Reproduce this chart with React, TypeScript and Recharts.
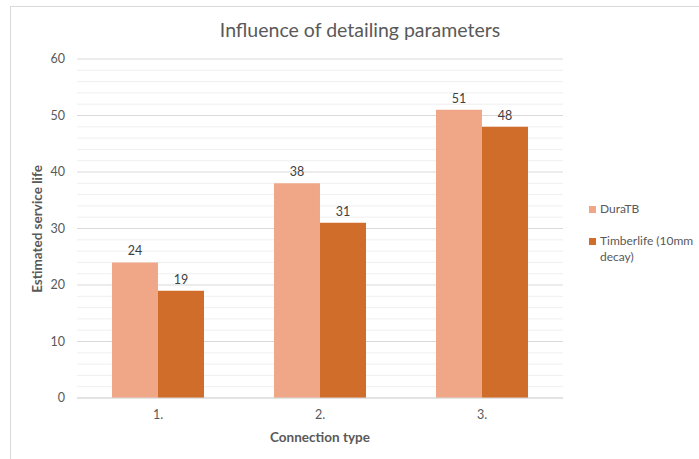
import { Bar, BarChart, CartesianGrid, LabelList, XAxis, YAxis } from "recharts";

const categories = ["1.", "2.", "3."];
const duraTB = [24, 38, 51];
const timberlife = [19, 31, 48];
const yTicks = Array.from({ length: 31 }, (_, i) => i * 2);

const seriesNames = ["DuraTB", "Timberlife (10mm decay)"];
const colors = ["#F0A788", "#D16D2A"];

const data = categories.map((c, i) => ({ name: c, dura: duraTB[i], timber: timberlife[i] }));

const FONT = "Lato, 'Open Sans', sans-serif";

function GridLine(props: any) {
  const major = props.index % 5 === 0;
  return (
    <line
      key={props.key}
      x1={props.x1}
      y1={props.y1}
      x2={props.x2}
      y2={props.y2}
      stroke={major ? "#d9d9d9" : "#efefef"}
      strokeWidth={1}
    />
  );
}

// legend drawn as an overlay so it doesn't eat into the plot area
function LegendBox() {
  return (
    <div
      style={{
        position: "absolute",
        left: 589,
        top: 201,
        fontSize: 12,
        color: "#595959",
        lineHeight: "16px",
      }}
    >
      {seriesNames.map((n, i) => (
        <div key={n} style={{ display: "flex", alignItems: "flex-start", marginBottom: i === 0 ? 16 : 0 }}>
          <span
            style={{ width: 7, height: 7, background: colors[i], marginTop: 5, marginRight: 4, flex: "none" }}
          />
          <span style={{ width: 98 }}>{n}</span>
        </div>
      ))}
    </div>
  );
}

export default function App() {
  return (
    <div
      style={{
        position: "absolute",
        left: 0,
        top: 0,
        width: 699,
        height: 459,
        overflow: "hidden",
        background: "#fff",
        fontFamily: FONT,
      }}
    >
      <div
        style={{
          position: "absolute",
          left: 10,
          top: 6,
          right: 0,
          bottom: 0,
          borderLeft: "1px solid #d9d9d9",
          borderTop: "1px solid #d9d9d9",
        }}
      />
      <div
        style={{
          position: "absolute",
          left: 10,
          width: 700,
          top: 18,
          textAlign: "center",
          fontSize: 19.5,
          color: "#595959",
        }}
      >
        Influence of detailing parameters
      </div>
      <div
        style={{
          position: "absolute",
          left: 37,
          top: 229,
          transform: "translate(-50%, -50%) rotate(-90deg)",
          whiteSpace: "nowrap",
          fontSize: 13.5,
          fontWeight: 700,
          color: "#595959",
        }}
      >
        Estimated service life
      </div>
      <div
        style={{
          position: "absolute",
          left: 320,
          top: 437,
          transform: "translate(-50%, -50%)",
          whiteSpace: "nowrap",
          fontSize: 13.5,
          fontWeight: 700,
          color: "#595959",
        }}
      >
        Connection type
      </div>
      <BarChart
        width={699}
        height={459}
        data={data}
        margin={{ top: 59, right: 136, left: 37, bottom: 31 }}
        barCategoryGap="21.6%"
        barGap={0}
        style={{ position: "absolute", left: 0, top: 0 }}
      >
        <CartesianGrid vertical={false} horizontal={GridLine} />
        <XAxis
          dataKey="name"
          axisLine={{ stroke: "#d9d9d9" }}
          tickLine={false}
          tickMargin={6}
          height={30}
          tick={{ fill: "#595959", fontSize: 12.5, fontFamily: FONT }}
        />
        <YAxis
          domain={[0, 60]}
          ticks={yTicks}
          interval={0}
          width={40}
          axisLine={false}
          tickLine={false}
          tickMargin={6}
          tickFormatter={(v) => (v % 10 === 0 ? String(v) : "")}
          tick={{ fill: "#595959", fontSize: 12.5, fontFamily: FONT }}
        />
        <Bar dataKey="dura" name={seriesNames[0]} fill={colors[0]} isAnimationActive={false}>
          <LabelList dataKey="dura" position="top" offset={7} fill="#404040" fontSize={12.5} fontFamily={FONT} />
        </Bar>
        <Bar dataKey="timber" name={seriesNames[1]} fill={colors[1]} isAnimationActive={false}>
          <LabelList dataKey="timber" position="top" offset={7} fill="#404040" fontSize={12.5} fontFamily={FONT} />
        </Bar>
      </BarChart>
      <LegendBox />
    </div>
  );
}
